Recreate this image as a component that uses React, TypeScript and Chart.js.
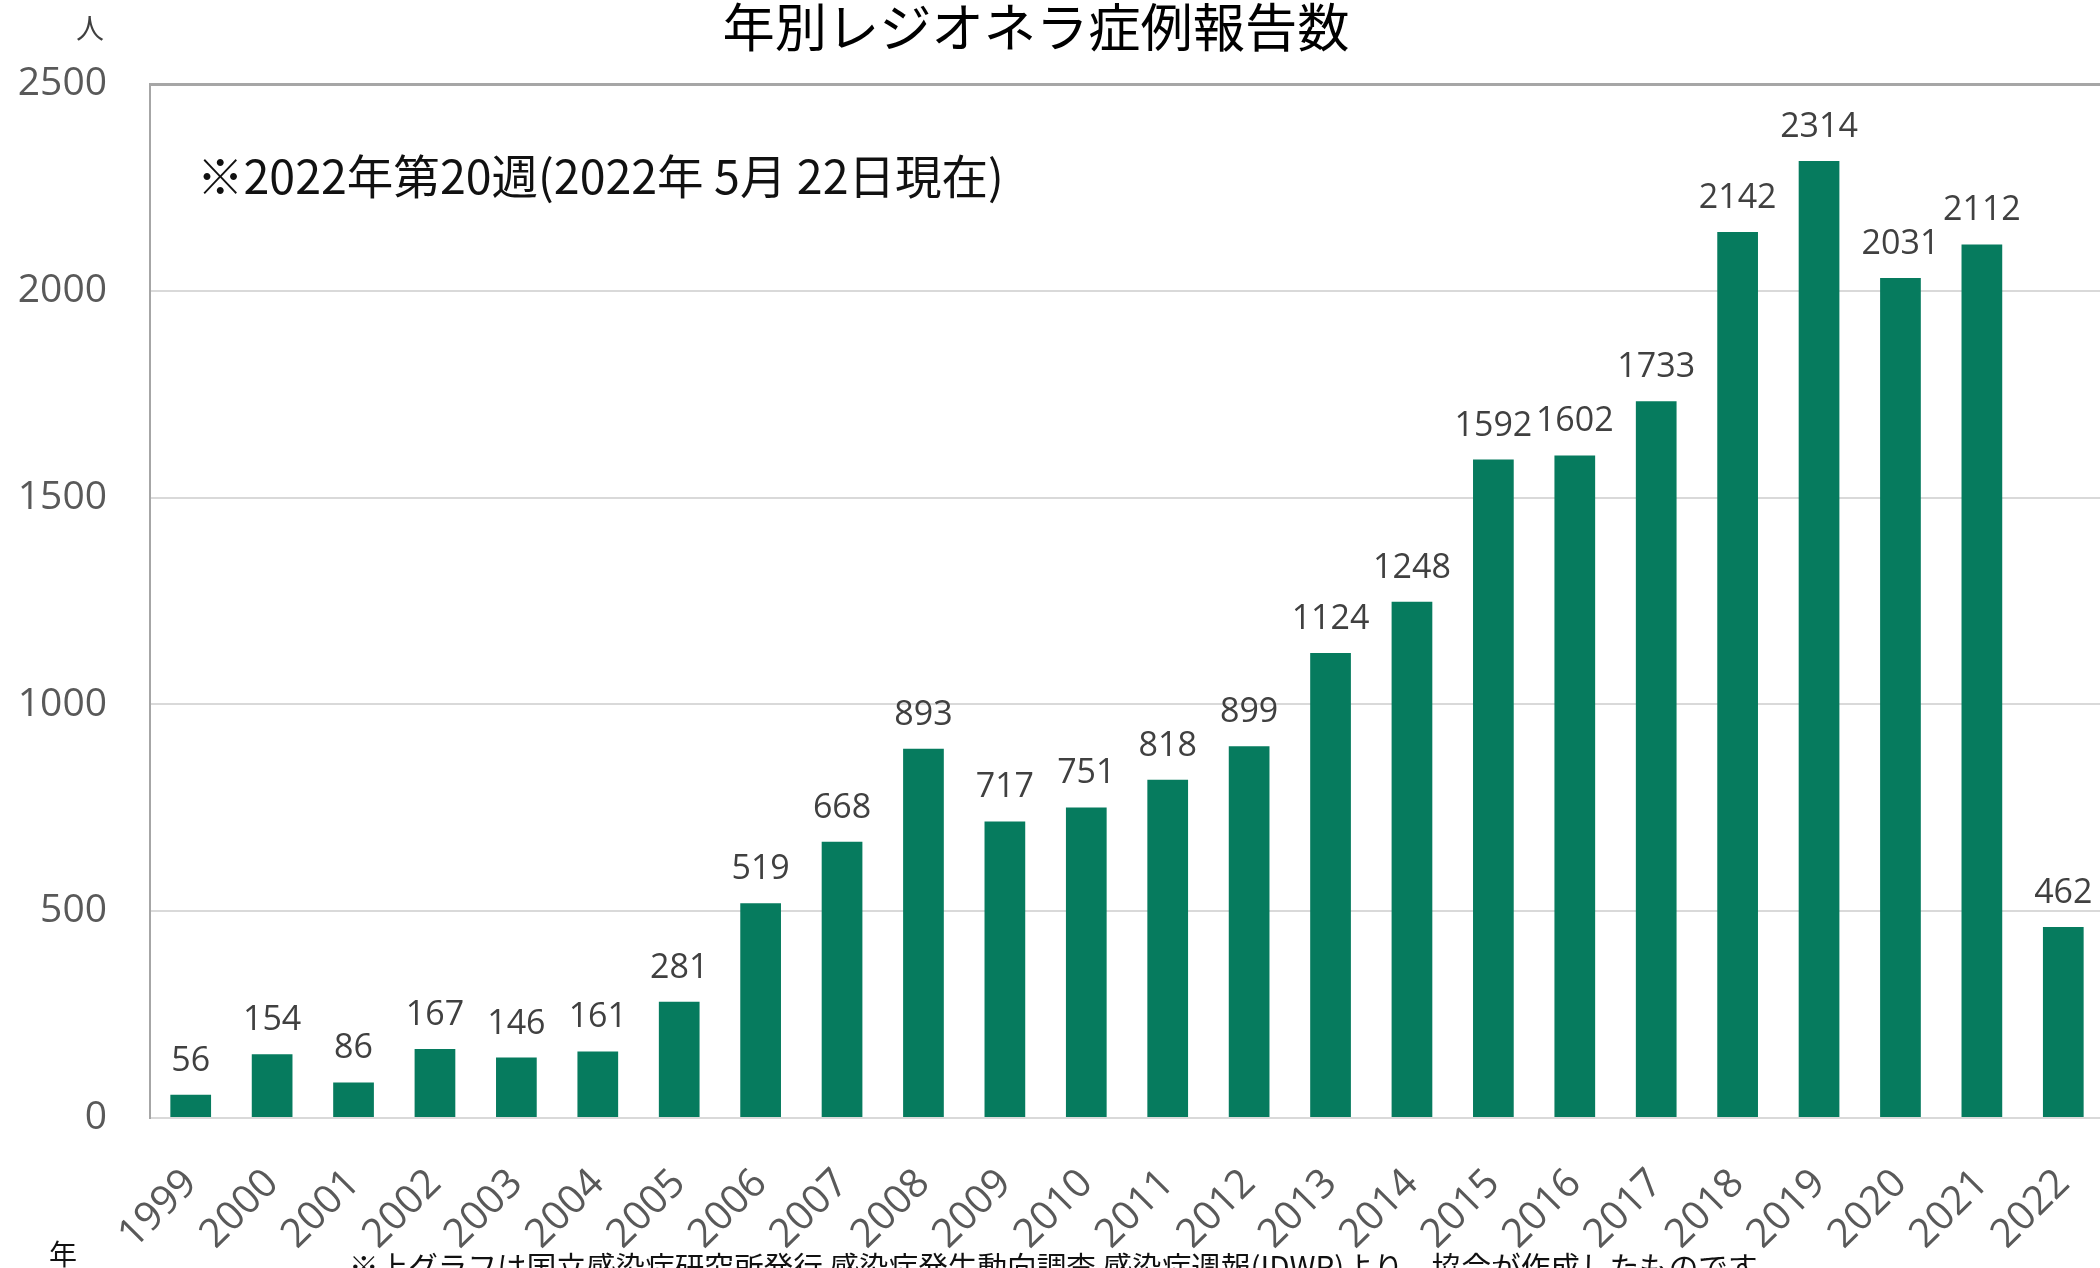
import React, { useEffect, useRef } from "react";
import { Chart, registerables } from "chart.js";

Chart.register(...registerables);

const years = [
  "1999", "2000", "2001", "2002", "2003", "2004", "2005", "2006", "2007", "2008",
  "2009", "2010", "2011", "2012", "2013", "2014", "2015", "2016", "2017", "2018",
  "2019", "2020", "2021", "2022",
];
const cases = [
  56, 154, 86, 167, 146, 161, 281, 519, 668, 893,
  717, 751, 818, 899, 1124, 1248, 1592, 1602, 1733, 2142,
  2314, 2031, 2112, 462,
];
const yTicks = [0, 500, 1000, 1500, 2000, 2500];

const titleText = "年別レジオネラ症例報告数";
const unitText = "人";
const xUnitText = "年";
const noteText = "※2022年第20週(2022年 5月 22日現在)";
const footerText =
  "※上グラフは国立感染症研究所発行 感染症発生動向調査 感染症週報(IDWR)より、協会が作成したものです";

const CJK = '"Noto Sans CJK JP", "Noto Sans", sans-serif';
const LAT = '"Open Sans", "Noto Sans", sans-serif';

function fitFont(ctx: CanvasRenderingContext2D, text: string, family: string, target: number, base: number) {
  ctx.font = `${base}px ${family}`;
  const w = ctx.measureText(text).width;
  const size = (base * target) / w;
  ctx.font = `${size}px ${family}`;
}

const textPlugin = {
  id: "textPlugin",
  afterDraw(chart: any) {
    const ctx: CanvasRenderingContext2D = chart.ctx;
    ctx.save();
    // data labels
    const meta = chart.getDatasetMeta(0);
    ctx.font = `34px ${LAT}`;
    ctx.fillStyle = "#404040";
    ctx.textAlign = "center";
    ctx.textBaseline = "alphabetic";
    meta.data.forEach((bar: any, i: number) => {
      ctx.fillText(String(cases[i]), bar.x, bar.y - 24);
    });

    // title
    ctx.fillStyle = "#000000";
    ctx.textAlign = "center";
    ctx.textBaseline = "middle";
    fitFont(ctx, titleText, CJK, 627, 50);
    ctx.fillText(titleText, 1036, 27);

    // unit 人
    ctx.fillStyle = "#404040";
    ctx.font = `28px ${CJK}`;
    ctx.fillText(unitText, 90, 28);

    // annotation
    ctx.fillStyle = "#111111";
    ctx.textAlign = "left";
    ctx.textBaseline = "middle";
    fitFont(ctx, noteText, CJK, 807, 42);
    ctx.fillText(noteText, 197, 176);

    // 年
    ctx.fillStyle = "#111111";
    ctx.textAlign = "center";
    ctx.textBaseline = "top";
    ctx.font = `28px ${CJK}`;
    ctx.fillText(xUnitText, 63, 1240);

    // footer
    ctx.textAlign = "left";
    ctx.textBaseline = "top";
    fitFont(ctx, footerText, CJK, 1409, 30);
    ctx.fillText(footerText, 349, 1252);
    ctx.restore();
  },
};

export default function App() {
  const ref = useRef<HTMLCanvasElement | null>(null);

  useEffect(() => {
    document.body.style.margin = "0";
    document.body.style.overflow = "hidden";
    const canvas = ref.current;
    if (!canvas) return;
    const chart = new Chart(canvas, {
      type: "bar",
      data: {
        labels: years,
        datasets: [
          {
            data: cases,
            backgroundColor: "#067b5e",
            borderWidth: 0,
            barPercentage: 0.5,
            categoryPercentage: 1.0,
          },
        ],
      },
      options: {
        animation: false,
        responsive: false,
        devicePixelRatio: 1,
        layout: { padding: { top: 84, right: 4, left: 0, bottom: 0 } },
        plugins: {
          legend: { display: false },
          title: { display: false },
          tooltip: { enabled: false },
        },
        scales: {
          x: {
            afterFit: (scale: any) => {
              scale.height = 150;
              scale.paddingRight = 0;
              scale.paddingLeft = 0;
            },
            grid: { display: false, drawTicks: false },
            border: { display: true, color: "#d9d9d9", width: 2 },
            ticks: {
              autoSkip: false,
              minRotation: 45,
              maxRotation: 45,
              padding: 42,
              color: "#595959",
              font: { family: LAT, size: 40 },
            },
          },
          y: {
            min: 0,
            max: 2500,
            afterFit: (scale: any) => {
              scale.width = 150;
            },
            afterBuildTicks: (scale: any) => {
              scale.ticks = yTicks.map((v) => ({ value: v }));
            },
            grid: {
              drawTicks: false,
              color: (c: any) => (c.tick && c.tick.value === 2500 ? "#a6a6a6" : "#d9d9d9"),
              lineWidth: (c: any) => (c.tick && c.tick.value === 2500 ? 3 : 2),
            },
            border: { display: true, color: "#a6a6a6", width: 2 },
            ticks: {
              padding: 43,
              color: "#595959",
              font: { family: LAT, size: 39 },
              callback: (v: any) => String(v),
            },
          },
        },
      },
      plugins: [textPlugin],
    });
    return () => chart.destroy();
  }, []);

  return (
    <div
      style={{
        position: "fixed",
        left: 0,
        top: 0,
        width: 2100,
        height: 1268,
        overflow: "hidden",
        background: "#ffffff",
      }}
    >
      <canvas ref={ref} width={2108} height={1268} style={{ width: 2108, height: 1268, display: "block" }} />
    </div>
  );
}
